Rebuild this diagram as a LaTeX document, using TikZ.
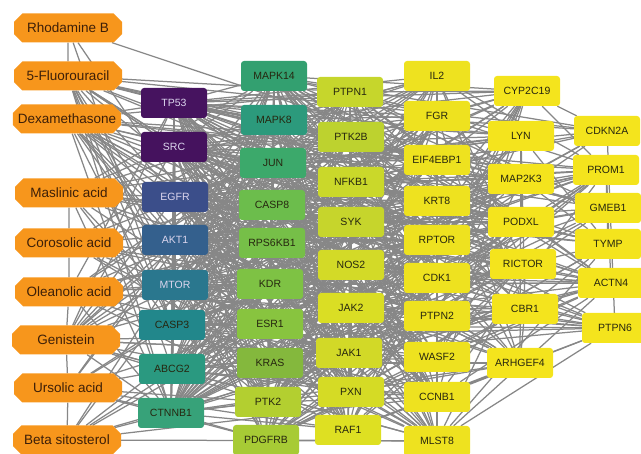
\documentclass[tikz,border=0pt]{standalone}
\usepackage{fontspec}
\setmainfont{Liberation Sans}
\usetikzlibrary{shapes.misc}
\pgfdeclarelayer{bg}
\pgfsetlayers{bg,main}
\definecolor{edgegray}{HTML}{878787}
\definecolor{drugfill}{HTML}{F7961C}
\definecolor{drugtxt}{HTML}{3D1F08}
\definecolor{lighttxt}{HTML}{DCD6EE}
\definecolor{darktxt}{HTML}{26260F}
\definecolor{cTP}{HTML}{46135F}
\definecolor{cSRC}{HTML}{45125E}
\definecolor{cEGFR}{HTML}{3B4E8A}
\definecolor{cAKT}{HTML}{34608D}
\definecolor{cMTOR}{HTML}{2A778E}
\definecolor{cCASPiii}{HTML}{22878B}
\definecolor{cABCG}{HTML}{2A9980}
\definecolor{cCTNNB}{HTML}{37A279}
\definecolor{cMAPKa}{HTML}{33A070}
\definecolor{cMAPKb}{HTML}{2C9A7C}
\definecolor{cJUN}{HTML}{3CA96B}
\definecolor{cCASPviii}{HTML}{6CBD4C}
\definecolor{cRPS}{HTML}{76BF48}
\definecolor{cKDR}{HTML}{7EC244}
\definecolor{cESR}{HTML}{88C43F}
\definecolor{cKRAS}{HTML}{84B83D}
\definecolor{cPTKii}{HTML}{B3CF30}
\definecolor{cPDGF}{HTML}{A7CB35}
\definecolor{cPTPNi}{HTML}{C6D62C}
\definecolor{cPTKiib}{HTML}{BDD22F}
\definecolor{cNFKB}{HTML}{CAD82A}
\definecolor{cSYK}{HTML}{C6D52C}
\definecolor{cNOS}{HTML}{D3DA27}
\definecolor{cJAKii}{HTML}{DADE24}
\definecolor{cJAKi}{HTML}{D2D927}
\definecolor{cPXN}{HTML}{D5DB25}
\definecolor{cRAF}{HTML}{DEE022}
\definecolor{cfour}{HTML}{EEE21F}
\definecolor{cfive}{HTML}{F4E41D}
\tikzset{
  gene/.style={rounded corners=3pt, minimum width=66pt, minimum height=30pt,
    inner sep=0pt, font=\fontsize{10.5}{12}\selectfont, text=darktxt},
  darkgene/.style={gene, text=lighttxt},
  drugnode/.style={chamfered rectangle, chamfered rectangle xsep=10pt,
    fill=drugfill, minimum width=108pt, minimum height=29pt, inner sep=0pt,
    font=\fontsize{13.5}{15}\selectfont, text=drugtxt},
  link/.style={draw=edgegray, line width=1.25pt},
}
\begin{document}
\begin{tikzpicture}[x=1pt,y=-1pt]
\useasboundingbox (0,0) rectangle (641,454);
% drugs
\node[drugnode] (RhodB) at (68,28) {Rhodamine B};
\node[drugnode] (FU) at (68,76) {5-Fluorouracil};
\node[drugnode] (Dexa) at (67,119) {Dexamethasone};
\node[drugnode] (Masl) at (69,193) {Maslinic acid};
\node[drugnode] (Coro) at (69,243) {Corosolic acid};
\node[drugnode] (Olea) at (69,292) {Oleanolic acid};
\node[drugnode] (Geni) at (66,340) {Genistein};
\node[drugnode] (Urso) at (68,388) {Ursolic acid};
\node[drugnode] (Beta) at (67,440) {Beta sitosterol};
% column 1
\node[darkgene, fill=cTP] (TP53) at (174,103) {TP53};
\node[darkgene, fill=cSRC] (SRC) at (174,147) {SRC};
\node[darkgene, fill=cEGFR] (EGFR) at (175,197) {EGFR};
\node[darkgene, fill=cAKT] (AKT1) at (175,240) {AKT1};
\node[darkgene, fill=cMTOR] (MTOR) at (175,285) {MTOR};
\node[gene, fill=cCASPiii] (CASP3) at (172,325) {CASP3};
\node[gene, fill=cABCG] (ABCG2) at (172,369) {ABCG2};
\node[gene, fill=cCTNNB] (CTNNB1) at (171,413) {CTNNB1};
% column 2
\node[gene, fill=cMAPKa] (MAPK14) at (274,76) {MAPK14};
\node[gene, fill=cMAPKb] (MAPK8) at (274,120) {MAPK8};
\node[gene, fill=cJUN] (JUN) at (273,163) {JUN};
\node[gene, fill=cCASPviii] (CASP8) at (272,205) {CASP8};
\node[gene, fill=cRPS] (RPS6KB1) at (272,243) {RPS6KB1};
\node[gene, fill=cKDR] (KDR) at (270,284) {KDR};
\node[gene, fill=cESR] (ESR1) at (270,324) {ESR1};
\node[gene, fill=cKRAS] (KRAS) at (270,363) {KRAS};
\node[gene, fill=cPTKii] (PTK2) at (268,402) {PTK2};
\node[gene, fill=cPDGF] (PDGFRB) at (266,440) {PDGFRB};
% column 3
\node[gene, fill=cPTPNi] (PTPN1) at (350,92) {PTPN1};
\node[gene, fill=cPTKiib] (PTK2B) at (351,137) {PTK2B};
\node[gene, fill=cNFKB] (NFKB1) at (351,182) {NFKB1};
\node[gene, fill=cSYK] (SYK) at (351,222) {SYK};
\node[gene, fill=cNOS] (NOS2) at (351,265) {NOS2};
\node[gene, fill=cJAKii] (JAK2) at (351,308) {JAK2};
\node[gene, fill=cJAKi] (JAK1) at (349,353) {JAK1};
\node[gene, fill=cPXN] (PXN) at (351,392) {PXN};
\node[gene, fill=cRAF] (RAF1) at (348,430) {RAF1};
% column 4
\node[gene, fill=cfour] (IL2) at (437,76) {IL2};
\node[gene, fill=cfour] (FGR) at (437,116) {FGR};
\node[gene, fill=cfour] (EIF4EBP1) at (437,160) {EIF4EBP1};
\node[gene, fill=cfour] (KRT8) at (437,201) {KRT8};
\node[gene, fill=cfour] (RPTOR) at (437,240) {RPTOR};
\node[gene, fill=cfour] (CDK1) at (437,278) {CDK1};
\node[gene, fill=cfour] (PTPN2) at (437,316) {PTPN2};
\node[gene, fill=cfour] (WASF2) at (437,357) {WASF2};
\node[gene, fill=cfour] (CCNB1) at (437,397) {CCNB1};
\node[gene, fill=cfour] (MLST8) at (437,441) {MLST8};
% column 5
\node[gene, fill=cfive] (CYP2C19) at (527,91) {CYP2C19};
\node[gene, fill=cfive] (LYN) at (521,136) {LYN};
\node[gene, fill=cfive] (MAP2K3) at (521,179) {MAP2K3};
\node[gene, fill=cfive] (PODXL) at (521,222) {PODXL};
\node[gene, fill=cfive] (RICTOR) at (523,264) {RICTOR};
\node[gene, fill=cfive] (CBR1) at (525,309) {CBR1};
\node[gene, fill=cfive] (ARHGEF4) at (520,363) {ARHGEF4};
% column 6
\node[gene, fill=cfive] (CDKN2A) at (607,131) {CDKN2A};
\node[gene, fill=cfive] (PROM1) at (606,170) {PROM1};
\node[gene, fill=cfive] (GMEB1) at (608,208) {GMEB1};
\node[gene, fill=cfive] (TYMP) at (608,244) {TYMP};
\node[gene, fill=cfive] (ACTN4) at (611,283) {ACTN4};
\node[gene, fill=cfive] (PTPN6) at (615,328) {PTPN6};

\def\targets{TP53,SRC,EGFR,AKT1,MTOR,CASP3,ABCG2,CTNNB1,MAPK14,MAPK8,JUN,CASP8,RPS6KB1,KDR,ESR1,KRAS,PTK2,PDGFRB,PTPN1,PTK2B,NFKB1,SYK,NOS2,JAK2,JAK1,PXN,RAF1,IL2,FGR,EIF4EBP1,KRT8,RPTOR,CDK1,PTPN2,WASF2,CCNB1,MLST8,CYP2C19,LYN,MAP2K3,PODXL,RICTOR,CBR1,ARHGEF4,CDKN2A,PROM1,GMEB1,TYMP,ACTN4,PTPN6}
\def\wts{{1,1,.95,.93,.9,.88,.86,.85,.85,.85,.83,.75,.73,.72,.7,.7,.62,.62,.62,.62,.62,.62,.6,.58,.59,.58,.57,.55,.55,.55,.55,.55,.55,.55,.55,.55,.55,.47,.47,.47,.47,.47,.47,.47,.38,.38,.38,.38,.38,.38}}
\def\drugs{RhodB/.22,FU/.9,Dexa/.9,Masl/.7,Coro/.7,Olea/.7,Geni/.9,Urso/.65,Beta/.35}
\begin{pgfonlayer}{bg}
\pgfmathsetseed{2024}
\foreach \a [count=\i] in \targets {
  \foreach \b [count=\j] in \targets {
    \ifnum\j>\i
      \pgfmathtruncatemacro\ok{rnd<1.3*\wts[\i-1]*\wts[\j-1]}
      \ifnum\ok=1 \draw[link] (\a) -- (\b);\fi
    \fi
  }
}
\foreach \d/\dw in \drugs {
  \foreach \b [count=\j] in \targets {
    \pgfmathtruncatemacro\ok{rnd<0.7*\dw*\wts[\j-1]}
    \ifnum\ok=1 \draw[link] (\d) -- (\b);\fi
  }
}
\draw[link] (RhodB) -- (FU);
\draw[link] (Masl) -- (Coro);
\draw[link] (Coro) -- (Olea);
\draw[link] (Olea) -- (Geni);
\draw[link] (Geni) -- (Urso);
\draw[link] (Urso) -- (Beta);
\end{pgfonlayer}
\end{tikzpicture}
\end{document}
